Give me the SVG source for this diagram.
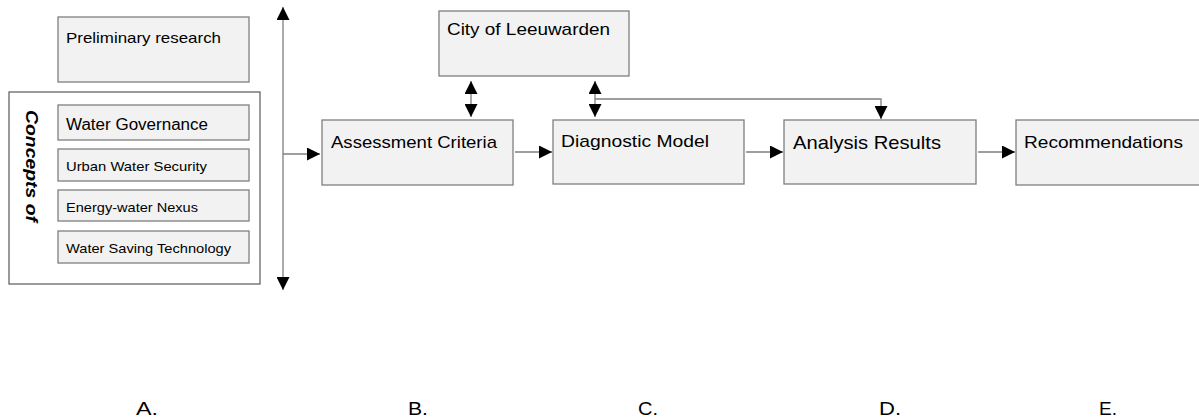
<svg xmlns="http://www.w3.org/2000/svg" width="1199" height="419" viewBox="0 0 1199 419">
<style>
.box{fill:#f2f2f2;stroke:#7f7f7f;stroke-width:1.3}
.outer{fill:#ffffff;stroke:#595959;stroke-width:1.2}
.t{font-family:"Liberation Sans",Arial,sans-serif;fill:#000}
.ln{stroke:#7f7f7f;stroke-width:1.3;fill:none}
</style>
<defs>
<marker id="ah" viewBox="0 0 10 10" refX="10" refY="5" markerWidth="10" markerHeight="10" markerUnits="userSpaceOnUse" orient="auto-start-reverse"><path d="M0,0 L10,5 L0,10 z" fill="#000"/></marker>
<marker id="ahb" viewBox="0 0 10 10" refX="10" refY="5" markerWidth="13" markerHeight="13" markerUnits="userSpaceOnUse" orient="auto-start-reverse"><path d="M0,0 L10,5 L0,10 z" fill="#000"/></marker>
</defs>
<rect width="1199" height="419" fill="#fff"/>
<g id="prelim">
<rect class="box" x="58" y="17" width="191" height="65"/>
<text class="t" x="66" y="43" font-size="15" textLength="155" lengthAdjust="spacingAndGlyphs">Preliminary research</text>
</g>
<g id="concepts">
<rect class="outer" x="9" y="92" width="251" height="192"/>
<text class="t" transform="translate(26,110) rotate(90)" font-size="17" font-weight="bold" font-style="italic" textLength="112" lengthAdjust="spacingAndGlyphs">Concepts of</text>
</g>
<g id="water-governance">
<rect class="box" x="58" y="105" width="191" height="35"/>
<text class="t" x="66" y="130" font-size="16" textLength="142" lengthAdjust="spacingAndGlyphs">Water Governance</text>
</g>
<g id="urban-water-security">
<rect class="box" x="58" y="149" width="191" height="32"/>
<text class="t" x="66" y="171" font-size="13.5" textLength="141" lengthAdjust="spacingAndGlyphs">Urban Water Security</text>
</g>
<g id="energy-water-nexus">
<rect class="box" x="58" y="190" width="191" height="31"/>
<text class="t" x="66" y="212" font-size="13.5" textLength="132" lengthAdjust="spacingAndGlyphs">Energy-water Nexus</text>
</g>
<g id="water-saving">
<rect class="box" x="58" y="231" width="191" height="32"/>
<text class="t" x="66" y="253" font-size="13.5" textLength="165" lengthAdjust="spacingAndGlyphs">Water Saving Technology</text>
</g>
<g id="city">
<rect class="box" x="439" y="11" width="190" height="65"/>
<text class="t" x="447" y="35" font-size="17" textLength="163" lengthAdjust="spacingAndGlyphs">City of Leeuwarden</text>
</g>
<g id="assessment">
<rect class="box" x="322" y="120" width="191" height="65"/>
<text class="t" x="331" y="148" font-size="17" textLength="166" lengthAdjust="spacingAndGlyphs">Assessment Criteria</text>
</g>
<g id="diagnostic">
<rect class="box" x="553" y="120" width="191" height="64"/>
<text class="t" x="561" y="147" font-size="17" textLength="148" lengthAdjust="spacingAndGlyphs">Diagnostic Model</text>
</g>
<g id="analysis">
<rect class="box" x="784" y="120" width="192" height="64"/>
<text class="t" x="793" y="149" font-size="19" textLength="148" lengthAdjust="spacingAndGlyphs">Analysis Results</text>
</g>
<g id="recommendations">
<rect class="box" x="1016" y="120" width="190" height="65"/>
<text class="t" x="1024" y="148" font-size="17" textLength="159" lengthAdjust="spacingAndGlyphs">Recommendations</text>
</g>
<g id="connectors">
<line class="ln" x1="283" y1="7" x2="283" y2="290" marker-start="url(#ahb)" marker-end="url(#ahb)"/>
<line class="ln" x1="283" y1="154" x2="320" y2="154" marker-end="url(#ahb)"/>
<line class="ln" x1="471" y1="81" x2="471" y2="117" marker-start="url(#ahb)" marker-end="url(#ahb)"/>
<line class="ln" x1="595" y1="81" x2="595" y2="117" marker-start="url(#ahb)" marker-end="url(#ahb)"/>
<polyline class="ln" points="595,99 881,99 881,119" marker-end="url(#ahb)"/>
<line class="ln" x1="515" y1="152" x2="552" y2="152" marker-end="url(#ahb)"/>
<line class="ln" x1="746" y1="152" x2="783" y2="152" marker-end="url(#ahb)"/>
<line class="ln" x1="978" y1="152" x2="1015" y2="152" marker-end="url(#ahb)"/>
</g>
<g id="labels">
<text class="t" x="136" y="415" font-size="18" textLength="22" lengthAdjust="spacingAndGlyphs">A.</text>
<text class="t" x="408" y="415" font-size="18" textLength="20" lengthAdjust="spacingAndGlyphs">B.</text>
<text class="t" x="638" y="415" font-size="18" textLength="20" lengthAdjust="spacingAndGlyphs">C.</text>
<text class="t" x="879" y="415" font-size="18" textLength="22" lengthAdjust="spacingAndGlyphs">D.</text>
<text class="t" x="1099" y="415" font-size="18" textLength="18" lengthAdjust="spacingAndGlyphs">E.</text>
</g>
</svg>
